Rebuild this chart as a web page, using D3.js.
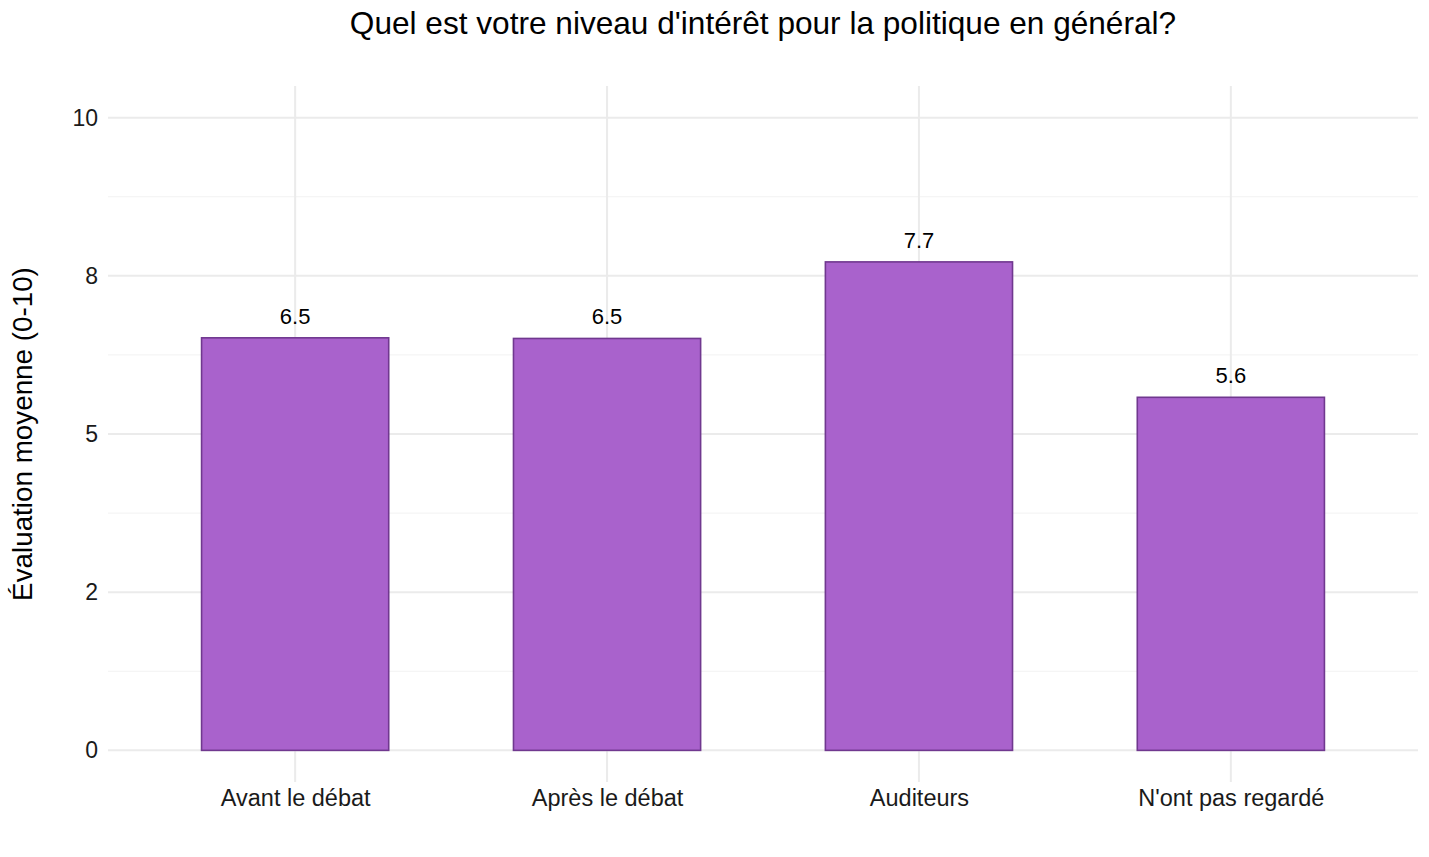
<!DOCTYPE html>
<html>
<head>
<meta charset="utf-8">
<script src="https://cdn.jsdelivr.net/npm/d3@7"></script>
<style>
  body { margin: 0; background: #fff; }
  text { font-family: "Liberation Sans", Arial, sans-serif; }
</style>
</head>
<body>
<svg id="chart" width="1429" height="857"></svg>
<script>
const categories = ["Avant le débat", "Après le débat", "Auditeurs", "N'ont pas regardé"];
const values = [6.52, 6.51, 7.72, 5.58];
const valueLabels = ["6.5", "6.5", "7.7", "5.6"];
const yTicks = [0, 2.5, 5, 7.5, 10];
const yTickLabels = ["0", "2", "5", "8", "10"];
const yMinor = [1.25, 3.75, 6.25, 8.75];

const svg = d3.select("#chart");
const area = { left: 108, right: 1418, top: 86, bottom: 782 };

const scaleX = d3.scalePoint()
    .domain(categories)
    .range([area.left, area.right])
    .padding(0.6);
const barW = scaleX.step() * 0.6;

const scaleY = d3.scaleLinear()
    .domain([-0.5, 10.5])
    .range([area.bottom, area.top]);

// grille
svg.append("g").selectAll("line.minor")
    .data(yMinor).join("line")
    .attr("x1", area.left).attr("x2", area.right)
    .attr("y1", d => scaleY(d)).attr("y2", d => scaleY(d))
    .attr("stroke", "#f2f2f2").attr("stroke-width", 1);

svg.append("g").selectAll("line.major")
    .data(yTicks).join("line")
    .attr("x1", area.left).attr("x2", area.right)
    .attr("y1", d => scaleY(d)).attr("y2", d => scaleY(d))
    .attr("stroke", "#ebebeb").attr("stroke-width", 2);

svg.append("g").selectAll("line.vert")
    .data(categories).join("line")
    .attr("x1", d => scaleX(d)).attr("x2", d => scaleX(d))
    .attr("y1", area.top).attr("y2", area.bottom)
    .attr("stroke", "#ebebeb").attr("stroke-width", 2);

// barres
svg.append("g").selectAll("rect")
    .data(values).join("rect")
    .attr("x", (d, i) => scaleX(categories[i]) - barW / 2)
    .attr("y", d => scaleY(d))
    .attr("width", barW)
    .attr("height", d => scaleY(0) - scaleY(d))
    .attr("fill", "#a962cc")
    .attr("stroke", "#70388f")
    .attr("stroke-width", 1.6);

// étiquettes des valeurs
svg.append("g").selectAll("text")
    .data(values).join("text")
    .attr("x", (d, i) => scaleX(categories[i]))
    .attr("y", d => scaleY(d) - 14)
    .attr("text-anchor", "middle")
    .attr("font-size", 22)
    .attr("fill", "#000")
    .text((d, i) => valueLabels[i]);

// axes
const axisY = d3.axisLeft(scaleY)
    .tickValues(yTicks)
    .tickFormat((d, i) => yTickLabels[i])
    .tickSize(0)
    .tickPadding(10);
const gy = svg.append("g")
    .attr("transform", `translate(${area.left},0)`)
    .call(axisY);
gy.select(".domain").remove();
gy.selectAll("text").attr("font-size", 23).attr("fill", "#1a1a1a")
    .style("font-family", "Liberation Sans, Arial, sans-serif");

const axisX = d3.axisBottom(scaleX).tickSize(0).tickPadding(7);
const gx = svg.append("g")
    .attr("transform", `translate(0,${area.bottom})`)
    .call(axisX);
gx.select(".domain").remove();
gx.selectAll("text").attr("font-size", 23.5).attr("fill", "#1a1a1a")
    .style("font-family", "Liberation Sans, Arial, sans-serif");

// titres
svg.append("text")
    .attr("x", (area.left + area.right) / 2)
    .attr("y", 34)
    .attr("text-anchor", "middle")
    .attr("font-size", 31.6)
    .attr("fill", "#000")
    .text("Quel est votre niveau d'intérêt pour la politique en général?");

svg.append("text")
    .attr("transform", `translate(32,${(area.top + area.bottom) / 2}) rotate(-90)`)
    .attr("text-anchor", "middle")
    .attr("font-size", 27.8)
    .attr("fill", "#000")
    .text("Évaluation moyenne (0-10)");
</script>
</body>
</html>
